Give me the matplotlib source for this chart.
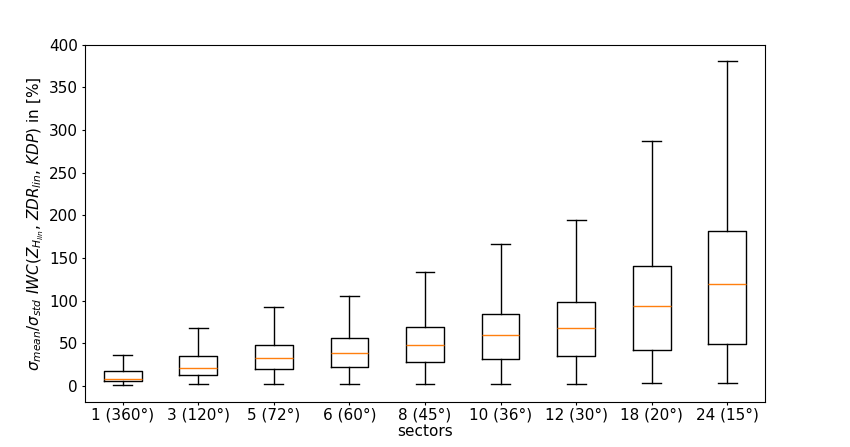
import matplotlib
matplotlib.use("Agg")
import matplotlib.pyplot as plt

# box statistics
sectors = ["1 (360°)", "3 (120°)", "5 (72°)", "6 (60°)", "8 (45°)",
           "10 (36°)", "12 (30°)", "18 (20°)", "24 (15°)"]
whislo = [0.8, 2, 2, 2, 2, 2, 2, 3.2, 3.9]
q1 = [5.8, 13.2, 19.5, 22.6, 27.7, 31.6, 34.7, 42.5, 49.5]
med = [7.8, 21, 32.7, 38.2, 48.7, 59.3, 67.5, 94.4, 120]
q3 = [17.5, 34.7, 48.7, 55.8, 69.8, 85, 99, 140.4, 182]
whishi = [36, 68.6, 92.4, 105, 133.7, 166, 195, 287.7, 381]

stats = [dict(label=s, whislo=lo, q1=a, med=m, q3=b, whishi=hi, fliers=[])
         for s, lo, a, m, b, hi in zip(sectors, whislo, q1, med, q3, whishi)]

plt.rcParams.update({"font.size": 11,
                     "xtick.major.size": 2.5, "ytick.major.size": 2.5,
                     "xtick.major.pad": 1.5, "ytick.major.pad": 2.5})
fig = plt.figure(figsize=(8.5, 4.47), dpi=100)
ax = fig.add_axes([0.1, 0.1, 0.8, 0.8])
ax.bxp(stats, showfliers=False)
ax.set_ylim(-19, 400)
ax.set_xlabel("sectors", labelpad=0.5)
ax.set_ylabel(r"$\sigma_{mean}/\sigma_{std}$ $IWC(Z_{H_{lin}}$, $ZDR_{lin}$, $KDP)$ in [%]",
              labelpad=2)
fig.savefig("out.png", dpi=100)
